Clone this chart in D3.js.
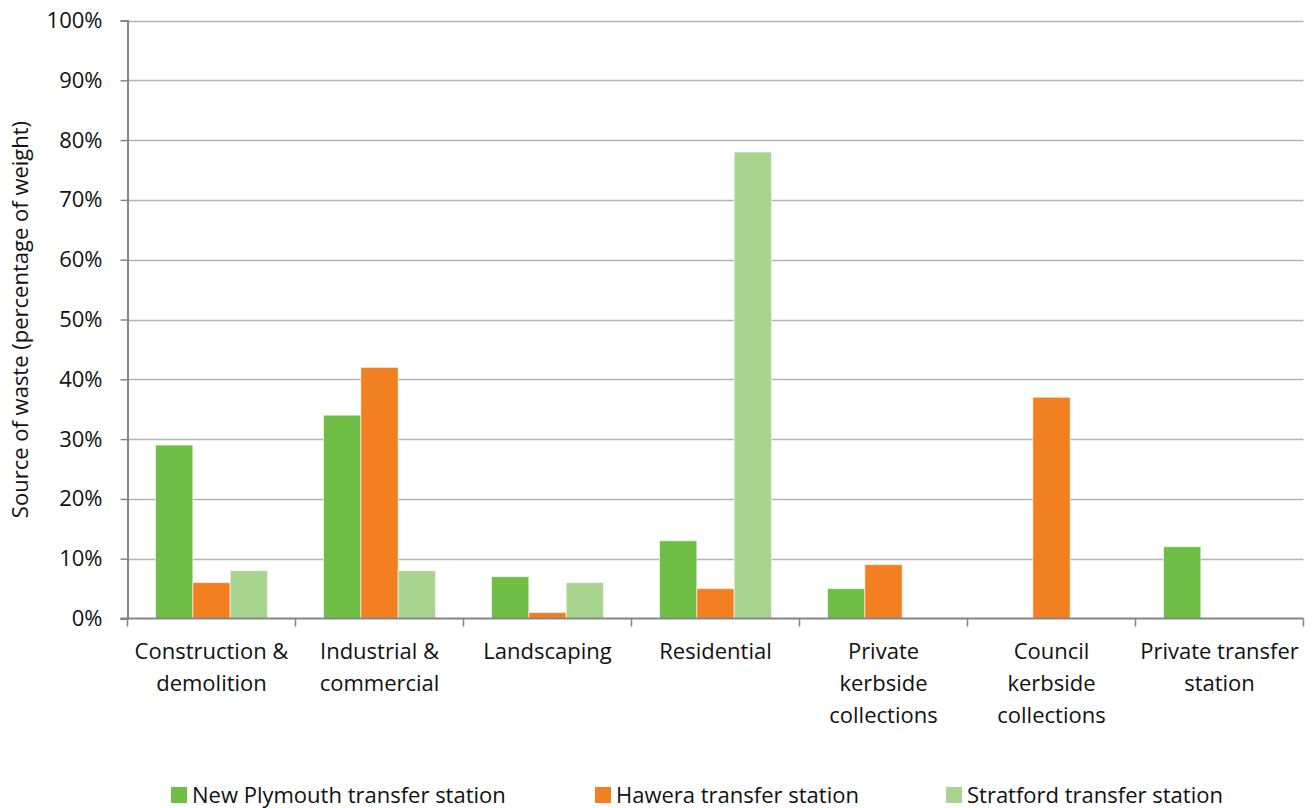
<!DOCTYPE html>
<html>
<head>
<meta charset="utf-8">
<script src="https://cdn.jsdelivr.net/npm/d3@7"></script>
<style>
  html, body { margin: 0; padding: 0; background: #fff; }
  svg { display: block; font-family: "Open Sans", Lato, sans-serif; }
</style>
</head>
<body>
<svg id="chart" width="1314" height="808"></svg>
<script>
// Source categories (each label split into lines as drawn)
const categories = [
  ["Construction &", "demolition"],
  ["Industrial &", "commercial"],
  ["Landscaping"],
  ["Residential"],
  ["Private", "kerbside", "collections"],
  ["Council", "kerbside", "collections"],
  ["Private transfer", "station"]
];

const seriesNames = [
  "New Plymouth transfer station",
  "Hawera transfer station",
  "Stratford transfer station"
];

// Percentage of weight by source, one array per station
const newPlymouth = [29, 34, 7, 13, 5, 0, 12];
const hawera      = [6, 42, 1, 5, 9, 37, 0];
const stratford   = [8, 8, 6, 78, 0, 0, 0];

const yTicks = [0, 10, 20, 30, 40, 50, 60, 70, 80, 90, 100];

const colors = ["#6fbe46", "#f28022", "#a9d48f"];
const seriesValues = [newPlymouth, hawera, stratford];

const FONT = "'Open Sans', Lato, sans-serif";
const FS = 22;

const svg = d3.select("#chart");
const margin = { left: 127.5, right: 1303.5, top: 20.5, bottom: 618.5 };

const catIdx = categories.map((d, i) => i);
const x0 = d3.scaleBand().domain(catIdx).range([margin.left, margin.right]).paddingInner(0).paddingOuter(0);
// Excel-style gap width: bars occupy 3 / 4.5 of each category
const x1 = d3.scaleBand().domain([0, 1, 2]).range([0, x0.bandwidth()]).paddingInner(0).paddingOuter(0.75);
const y = d3.scaleLinear().domain([0, 100]).range([margin.bottom, margin.top]);

// Gridlines
svg.append("g")
  .selectAll("line")
  .data(yTicks.filter(t => t > 0))
  .join("line")
  .attr("x1", margin.left).attr("x2", margin.right)
  .attr("y1", d => Math.round(y(d)) + 0.5).attr("y2", d => Math.round(y(d)) + 0.5)
  .attr("stroke", "#b3b3b3").attr("stroke-width", 1.5);

// Bars
const groups = svg.append("g")
  .selectAll("g")
  .data(catIdx)
  .join("g")
  .attr("transform", i => `translate(${x0(i)},0)`);

groups.selectAll("rect")
  .data(i => seriesValues.map((s, k) => ({ k, v: s[i] })).filter(d => d.v > 0))
  .join("rect")
  .attr("x", d => x1(d.k))
  .attr("width", x1.bandwidth())
  .attr("y", d => y(d.v))
  .attr("height", d => y(0) - y(d.v))
  .attr("fill", d => colors[d.k])
  .attr("stroke", "#ffffff")
  .attr("stroke-opacity", 0.6)
  .attr("stroke-width", 1);

// Y axis
const yAxis = d3.axisLeft(y).tickValues(yTicks).tickFormat(d => d + "%").tickSize(7).tickPadding(18);
const gy = svg.append("g").attr("transform", `translate(${margin.left},0)`).call(yAxis);
gy.select(".domain").attr("stroke", "#868686").attr("stroke-width", 2);
gy.selectAll(".tick line").attr("stroke", "#868686").attr("stroke-width", 1.5);
gy.selectAll(".tick text").attr("font-size", FS).attr("fill", "#111").attr("font-family", FONT);

// X axis baseline and category boundary ticks
const boundaries = catIdx.map(i => x0(i)).concat([margin.right]);
svg.append("line")
  .attr("x1", margin.left - 7).attr("x2", margin.right)
  .attr("y1", margin.bottom).attr("y2", margin.bottom)
  .attr("stroke", "#868686").attr("stroke-width", 2);
svg.append("g")
  .selectAll("line")
  .data(boundaries)
  .join("line")
  .attr("x1", d => d).attr("x2", d => d)
  .attr("y1", margin.bottom).attr("y2", margin.bottom + 8)
  .attr("stroke", "#868686").attr("stroke-width", 1.5);

// Category labels
const labels = svg.append("g")
  .selectAll("text")
  .data(catIdx)
  .join("text")
  .attr("text-anchor", "middle")
  .attr("font-size", FS)
  .attr("fill", "#111")
  .attr("x", i => x0(i) + x0.bandwidth() / 2)
  .attr("y", 659);
labels.selectAll("tspan")
  .data(i => categories[i].map(line => ({ i, line })))
  .join("tspan")
  .attr("x", d => x0(d.i) + x0.bandwidth() / 2)
  .attr("dy", (d, j) => j === 0 ? 0 : 32)
  .text(d => d.line);

// Y axis title
svg.append("text")
  .attr("transform", `translate(28,${(margin.top + margin.bottom) / 2}) rotate(-90)`)
  .attr("text-anchor", "middle")
  .attr("font-size", FS)
  .attr("fill", "#111")
  .text("Source of waste (percentage of weight)");

// Legend
const legendX = [171, 595, 946];
const legend = svg.append("g")
  .selectAll("g")
  .data(seriesNames)
  .join("g")
  .attr("transform", (d, i) => `translate(${legendX[i]},787)`);
legend.append("rect")
  .attr("width", 16).attr("height", 16)
  .attr("fill", (d, i) => colors[i]);
legend.append("text")
  .attr("x", 21).attr("y", 16)
  .attr("font-size", FS)
  .attr("fill", "#111")
  .text(d => d);
</script>
</body>
</html>
